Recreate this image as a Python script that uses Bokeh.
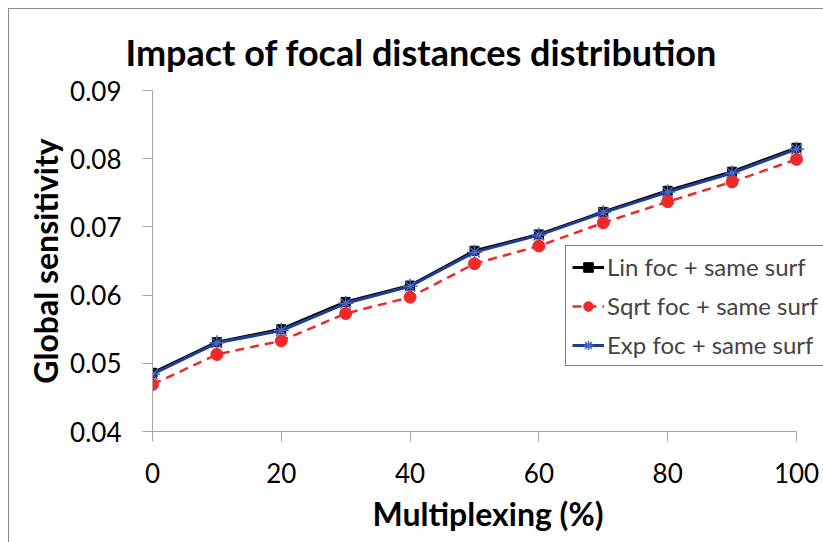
from bokeh.plotting import figure
from bokeh.models import Range1d, Legend, LegendItem, FixedTicker
from bokeh.embed import file_html
from bokeh.resources import INLINE

# ---- data ----
multiplexing = [0, 10, 20, 30, 40, 50, 60, 70, 80, 90, 100]
lin_foc = [0.0486, 0.0531, 0.0550, 0.0590, 0.0614, 0.0665, 0.0689, 0.0722, 0.0753, 0.0781, 0.0816]
sqrt_foc = [0.0469, 0.0513, 0.0533, 0.0573, 0.0597, 0.0646, 0.0672, 0.0706, 0.0737, 0.0766, 0.0799]
exp_foc = [0.0484, 0.0530, 0.0548, 0.0588, 0.0613, 0.0663, 0.0688, 0.0721, 0.0751, 0.0779, 0.0814]
x_ticks = [0, 20, 40, 60, 80, 100]
y_ticks = [0.04, 0.05, 0.06, 0.07, 0.08, 0.09]
y_tick_labels = ["0.04", "0.05", "0.06", "0.07", "0.08", "0.09"]
title_text = "Impact of focal distances distribution"
series_names = ["Lin foc + same surf", "Sqrt foc + same surf", "Exp foc + same surf"]

FONT = "Lato"
AXIS_GRAY = "#A6A6A6"

# layout (pixels)
AXIS_X_PX = 644        # pixel length of the 0..100 x axis
FRAME_W = 671          # frame reaches the right edge of the window
x_end = x_ticks[0] + (x_ticks[-1] - x_ticks[0]) * FRAME_W / AXIS_X_PX

p = figure(frame_width=FRAME_W, frame_height=341,
           output_backend="svg", toolbar_location=None,
           x_range=Range1d(x_ticks[0], x_end), y_range=Range1d(y_ticks[0], y_ticks[-1]),
           min_border_left=143, min_border_right=0,
           min_border_top=81, min_border_bottom=111)
p.outline_line_color = None
p.xgrid.visible = False
p.ygrid.visible = False
p.styles = {"margin-left": "8px", "margin-top": "8px",
            "border-left": "1px solid #8C8C8C", "border-top": "1px solid #8C8C8C"}

p.title.text = title_text
p.title.text_font = FONT
p.title.text_font_style = "bold"
p.title.text_font_size = "36px"
p.title.text_color = "black"
p.title.align = "left"
p.title.offset = -27
p.title.vertical_align = "middle"
p.title.standoff = 32

for ax in (p.xaxis[0], p.yaxis[0]):
    ax.axis_line_color = AXIS_GRAY
    ax.major_tick_line_color = AXIS_GRAY
    ax.minor_tick_line_color = None
    ax.major_tick_out = 10
    ax.major_tick_in = 0
    ax.major_label_text_font = FONT
    ax.major_label_text_font_size = "26px"
    ax.major_label_text_color = "black"
    ax.axis_label_text_font = FONT
    ax.axis_label_text_font_style = "bold"
    ax.axis_label_text_font_size = "32px"
    ax.axis_label_text_color = "black"

p.xaxis.ticker = FixedTicker(ticks=x_ticks)
p.xaxis.bounds = (x_ticks[0], x_ticks[-1])
p.yaxis.ticker = FixedTicker(ticks=y_ticks)
p.yaxis.major_label_overrides = {t: l for t, l in zip(y_ticks, y_tick_labels)}
p.xaxis.major_label_standoff = 21
p.yaxis.major_label_standoff = 21
p.xaxis.axis_label = "Multiplexing (%)"
p.yaxis.axis_label = "Global sensitivity"
p.xaxis.axis_label_standoff = 8
p.yaxis.axis_label_standoff = 2

# ---- series ----
l1 = p.line(multiplexing, lin_foc, line_color="black", line_width=3)
m1 = p.scatter(multiplexing, lin_foc, marker="square", size=9, fill_color="black", line_color="black")
l3 = p.line(multiplexing, exp_foc, line_color="#1F3C96", line_width=3)
m3 = p.scatter(multiplexing, exp_foc, marker="asterisk", size=15, line_color="#4A66BE", line_width=1.5)
l2 = p.line(multiplexing, sqrt_foc, line_color="#F02828", line_width=2.5, line_dash="9 6")
m2 = p.scatter(multiplexing, sqrt_foc, marker="circle", size=12, fill_color="#F02828", line_color="#F02828")

legend = Legend(items=[LegendItem(label=series_names[0], renderers=[l1, m1]),
                       LegendItem(label=series_names[1], renderers=[l2, m2]),
                       LegendItem(label=series_names[2], renderers=[l3, m3])],
                location=(413, 65), margin=0, padding=6, spacing=10,
                glyph_width=32, glyph_height=24, label_height=24, label_standoff=3,
                label_text_font=FONT, label_text_font_size="24px",
                border_line_color="black", border_line_width=1,
                background_fill_color="white", background_fill_alpha=1)
p.add_layout(legend)

open("out.html", "w").write(file_html(p, INLINE))
